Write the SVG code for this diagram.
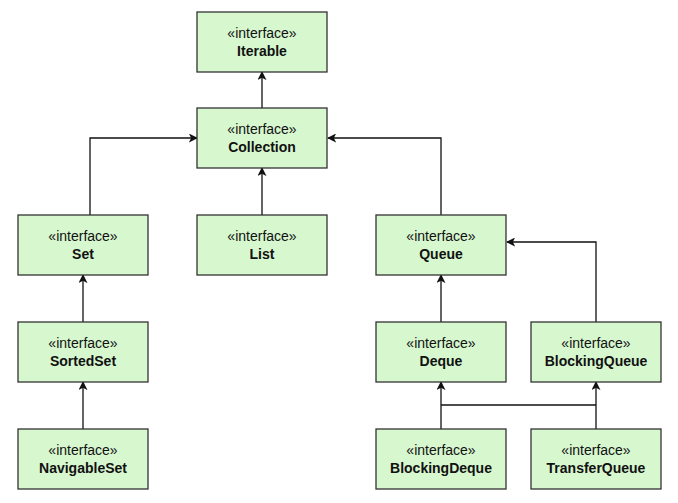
<svg xmlns="http://www.w3.org/2000/svg" width="678" height="503" viewBox="0 0 678 503">
<style>
.n rect{fill:#d7f7cf;stroke:#333;stroke-width:1.3}
.n text{font-family:"Liberation Sans",Arial,sans-serif;font-size:14px;fill:#111;text-anchor:middle}
.n .b{font-weight:bold}
#edges path{fill:none;stroke:#111;stroke-width:1.3;marker-end:url(#ah)}
#edges path.nm{marker-end:none}
</style>
<defs>
<marker id="ah" viewBox="0 0 10 10" refX="9" refY="5" markerWidth="9" markerHeight="9" markerUnits="userSpaceOnUse" orient="auto">
<path d="M0,0 L10,5 L0,10 L2.5,5 Z" fill="#111"/>
</marker>
</defs>
<rect width="678" height="503" fill="#fff"/>
<g id="edges">
<path d="M262,108 V72"/>
<path d="M90,215 V138 H197"/>
<path d="M262,215 V168"/>
<path d="M441,215 V138 H328"/>
<path d="M83,322 V275"/>
<path d="M83,429 V382"/>
<path d="M441,322 V275"/>
<path d="M596,322 V242 H507"/>
<path d="M441,429 V382"/>
<path class="nm" d="M441,405 H596"/>
<path d="M596,429 V382"/>
</g>
<g id="iterable" class="n"><rect x="197" y="12" width="130" height="60"/><text x="262" y="38">«interface»</text><text class="b" x="262" y="56">Iterable</text></g>
<g id="collection" class="n"><rect x="197" y="108" width="130" height="60"/><text x="262" y="134">«interface»</text><text class="b" x="262" y="152">Collection</text></g>
<g id="set" class="n"><rect x="18" y="215" width="130" height="60"/><text x="83" y="241">«interface»</text><text class="b" x="83" y="259">Set</text></g>
<g id="list" class="n"><rect x="197" y="215" width="130" height="60"/><text x="262" y="241">«interface»</text><text class="b" x="262" y="259">List</text></g>
<g id="queue" class="n"><rect x="376" y="215" width="130" height="60"/><text x="441" y="241">«interface»</text><text class="b" x="441" y="259">Queue</text></g>
<g id="sortedset" class="n"><rect x="18" y="322" width="130" height="60"/><text x="83" y="348">«interface»</text><text class="b" x="83" y="366">SortedSet</text></g>
<g id="deque" class="n"><rect x="376" y="322" width="130" height="60"/><text x="441" y="348">«interface»</text><text class="b" x="441" y="366">Deque</text></g>
<g id="blockingqueue" class="n"><rect x="531" y="322" width="130" height="60"/><text x="596" y="348">«interface»</text><text class="b" x="596" y="366">BlockingQueue</text></g>
<g id="navigableset" class="n"><rect x="18" y="429" width="130" height="60"/><text x="83" y="455">«interface»</text><text class="b" x="83" y="473">NavigableSet</text></g>
<g id="blockingdeque" class="n"><rect x="376" y="429" width="130" height="60"/><text x="441" y="455">«interface»</text><text class="b" x="441" y="473">BlockingDeque</text></g>
<g id="transferqueue" class="n"><rect x="531" y="429" width="130" height="60"/><text x="596" y="455">«interface»</text><text class="b" x="596" y="473">TransferQueue</text></g>
</svg>
